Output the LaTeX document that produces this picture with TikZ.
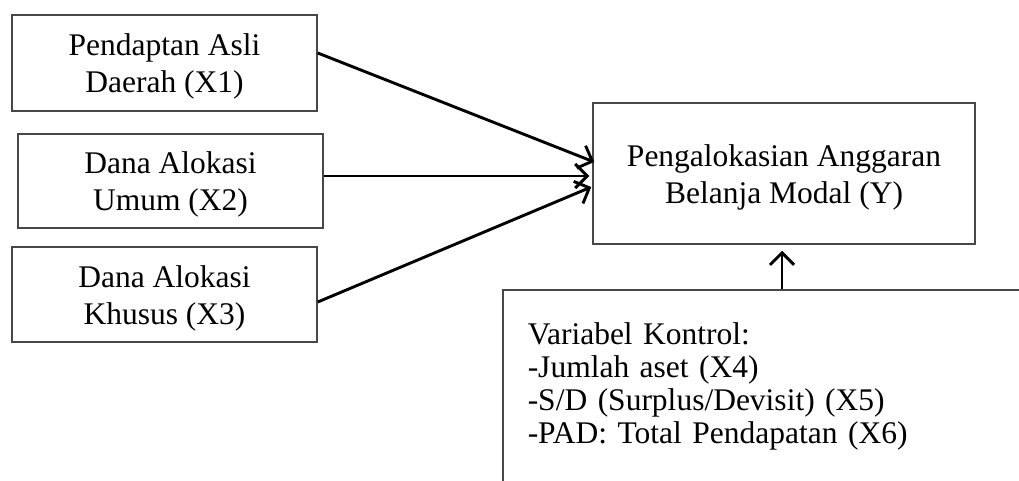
\documentclass[tikz,border=0pt]{standalone}
\usepackage{fontspec}
\setmainfont{Liberation Serif}
\usetikzlibrary{arrows.meta}

% first-line strut: lowers the two-line labels a little inside their frames
\newcommand{\toplift}{\rule{0pt}{29.5pt}}

\begin{document}
\begin{tikzpicture}[x=1pt,y=-1pt,
  varbox/.style={draw=black!72,line width=1.5pt,rectangle,inner sep=0pt,
    align=center,font=\fontsize{31.5}{37}\selectfont},
  ctrlbox/.style={draw=black!72,line width=1.5pt,rectangle,inner ysep=0pt,
    inner xsep=25pt,text width=500pt,align=left,
    font=\fontsize{31.5}{33}\selectfont},
  arr/.style={line width=2.9pt,-{Straight Barb[length=12pt,width=24pt,line width=2.9pt]}}]
  \useasboundingbox (0,0) rectangle (1019,480);

  % independent variables
  \node[varbox,minimum width=305pt,minimum height=96pt] (b1) at (164.5,63)
    {\toplift Pendaptan Asli\\Daerah (X1)};
  \node[varbox,minimum width=305pt,minimum height=94pt] (b2) at (170.5,181)
    {\toplift Dana Alokasi\\Umum (X2)};
  \node[varbox,minimum width=305pt,minimum height=95pt] (b3) at (164.5,294.5)
    {\toplift Dana Alokasi\\Khusus (X3)};

  % dependent variable
  \node[varbox,minimum width=382pt,minimum height=141pt] (yb) at (784,173.5)
    {\toplift Pengalokasian Anggaran\\Belanja Modal (Y)};

  % control variables
  \node[ctrlbox,minimum height=192.4pt,anchor=west] (ctrl) at (502,386.2)
    {Variabel Kontrol:\\-Jumlah aset (X4)\\-S/D (Surplus/Devisit) (X5)\\-PAD: Total Pendapatan (X6)};

  % connectors
  \draw[arr] ([yshift=10pt]b1.east) -- ([xshift=2pt,yshift=11.5pt]yb.west);
  \draw[arr] ([yshift=5pt]b2.east) -- ([xshift=-3pt,yshift=-2.5pt]yb.west);
  \draw[arr] ([yshift=-7.5pt]b3.east) -- ([xshift=-1pt,yshift=-13.5pt]yb.west);
  \draw[arr] ([xshift=-2pt]yb.south |- ctrl.north) -- ([xshift=-2pt,yshift=-6pt]yb.south);
\end{tikzpicture}
\end{document}
